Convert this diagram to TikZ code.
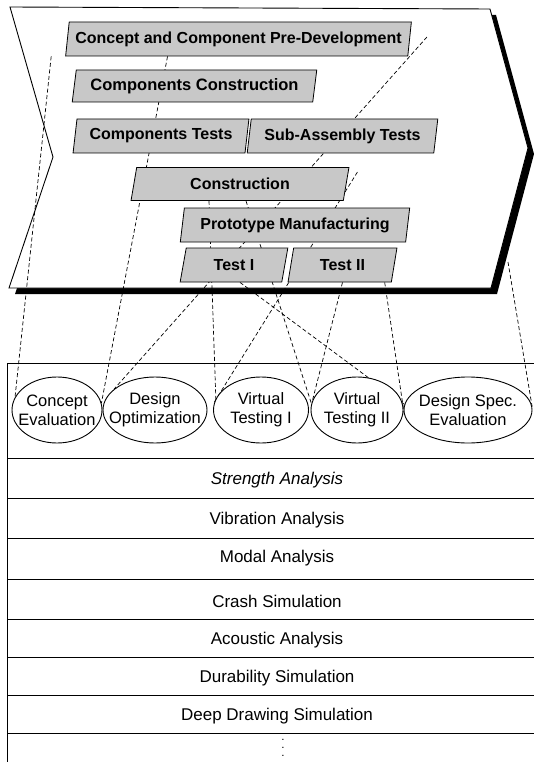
\documentclass[tikz,border=0pt]{standalone}
\usepackage{fontspec}
\setmainfont{Liberation Sans}
\usetikzlibrary{shapes.geometric}
\pgfdeclarelayer{back}
\pgfdeclarelayer{links}
\pgfsetlayers{back,links,main}
\definecolor{stagegray}{RGB}{200,200,200}
\tikzset{
  outline/.style={black, line width=0.9pt},
  rule/.style={black, line width=1pt},
  link/.style={black, line width=0.7pt, dash pattern=on 4pt off 2.5pt},
  stage/.style={trapezium, trapezium left angle=77, trapezium right angle=103,
                trapezium stretches=true, draw=black, line width=0.8pt,
                fill=stagegray, minimum height=34pt, inner sep=0pt,
                font=\fontsize{16}{18}\selectfont\bfseries},
  evalbox/.style={ellipse, draw=black, line width=0.9pt, fill=white,
                  minimum height=66pt, inner sep=0pt},
  evaltext/.style={align=center, inner sep=0pt,
                   font=\fontsize{16.5}{19}\selectfont},
  rowtext/.style={font=\fontsize{17}{19}\selectfont},
}

\begin{document}
\begin{tikzpicture}[x=1pt,y=-1pt]
  \path[use as bounding box] (0,0) rectangle (534,762);

  \coordinate (chtl) at (10,7);
  \coordinate (chtr) at (490,9);
  \coordinate (chrp) at (528,148);
  \coordinate (chbr) at (491,288);
  \coordinate (chbl) at (9,288);
  \coordinate (chnp) at (53,157);
  \coordinate (jtop) at (508,262);

  \node[stage, minimum width=347pt] (cp) at (238.5,39)
    {Concept and Component Pre-Development};
  \node[stage, minimum width=245pt, minimum height=32pt,
        font=\fontsize{16.5}{18}\selectfont\bfseries] (cc) at (194.5,86)
    {Components Construction};
  \node[stage, minimum width=176pt] (ct) at (161,136) {Components Tests};
  \node[stage, minimum width=191pt] (sa) at (342.5,136) {Sub-Assembly Tests};
  \node[stage, minimum width=218pt, minimum height=33pt] (cn) at (240,184)
    {Construction};
  \node[stage, minimum width=230pt] (pm) at (295,225) {Prototype Manufacturing};
  \node[stage, minimum width=108pt] (t1) at (234,265) {Test I};
  \node[stage, minimum width=109pt] (t2) at (342.5,265) {Test II};

  \node[evalbox, minimum width=90pt,
        label={[evaltext]center:Concept\\Evaluation}] (ce) at (57,410) {};
  \node[evalbox, minimum width=104pt,
        label={[evaltext]center:Design\\Optimization}] (do) at (155,410) {};
  \node[evalbox, minimum width=95pt,
        label={[evaltext]center:Virtual\\Testing I}] (vt1) at (261,410) {};
  \node[evalbox, minimum width=92pt,
        label={[evaltext]center:Virtual\\Testing II}] (vt2) at (357,410) {};
  \node[evalbox, minimum width=128pt,
        label={[evaltext]center:Design Spec.\\Evaluation}] (ds) at (468,410) {};

  \node[rowtext, font=\fontsize{17}{19}\selectfont\itshape] (sta) at (277,480)
    {Strength Analysis};
  \node[rowtext] (vba) at (277,520) {Vibration Analysis};
  \node[rowtext] (moa) at (277,558) {Modal Analysis};
  \node[rowtext] (crs) at (277,601) {Crash Simulation};
  \node[rowtext] (aca) at (277,640) {Acoustic Analysis};
  \node[rowtext] (dus) at (277,678) {Durability Simulation};
  \node[rowtext] (dds) at (277,716) {Deep Drawing Simulation};
  \node[font=\fontsize{8}{8}\selectfont\bfseries, align=center, inner sep=0pt]
    (more) at (283,748) {.\\.\\.};

  \begin{pgfonlayer}{back}
    \fill[black] ([shift={(6,6)}]chtl) -- ([shift={(6,6)}]chtr)
      -- ([shift={(6,6)}]chrp) -- ([shift={(6,6)}]chbr)
      -- ([shift={(6,6)}]chbl) -- ([shift={(6,6)}]chnp) -- cycle;
    \draw[outline, fill=white] (chtl) -- (chtr) -- (chrp) -- (chbr)
      -- (chbl) -- (chnp) -- cycle;
    \draw[rule] (534,363) -- (7,363) -- (7,762);
    \foreach \y in {458,498,538,579,619,657,695,733}
      \draw[rule] (7,\y) -- (534,\y);
  \end{pgfonlayer}

  \begin{pgfonlayer}{links}
    \draw[link] ([xshift=-14pt]cp.bottom left corner) -- (ce.163);
    \draw[link] ([xshift=-71pt]cp.south) -- (ce.9);
    \draw[link] ([xshift=17pt,yshift=2pt]cp.east) -- (do.153);
    \draw[link] ([xshift=-31pt]cn.south) -- (vt1.166);
    \draw[link] ([xshift=8pt,yshift=-5pt]cn.top right corner) -- (vt1.170);
    \draw[link] ([xshift=6pt]cn.south) -- (vt2.172);
    \draw[link] ([xshift=6pt]t1.south) -- (ds.175);
    \draw[link] (t2.south) -- (vt2.168);
    \draw[link] ([xshift=-7pt]t2.bottom right corner) -- (ds.185);
    \draw[link] (jtop) -- (ds.3);
  \end{pgfonlayer}
\end{tikzpicture}
\end{document}
